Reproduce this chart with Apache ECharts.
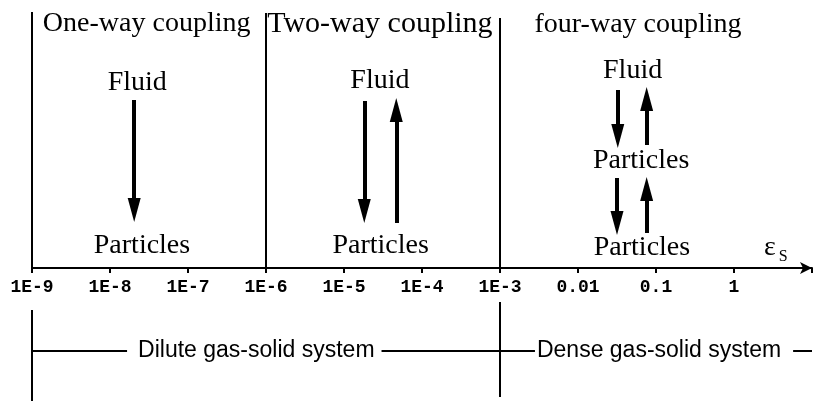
<!DOCTYPE html>
<html>
<head>
<meta charset="utf-8">
<script src="https://cdn.jsdelivr.net/npm/echarts@6/dist/echarts.min.js"></script>
<style>
  html, body { margin: 0; padding: 0; background: #fff; }
  #chart { width: 815px; height: 401px; }
</style>
</head>
<body>
<div id="chart"></div>
<script>
// data
var axisRange = [1e-9, 10];
var tickLabels = ["1E-9", "1E-8", "1E-7", "1E-6", "1E-5", "1E-4", "1E-3", "0.01", "0.1", "1"];
var regimeNames = ["One-way coupling", "Two-way coupling", "four-way coupling"];
var regimeEdges = [1e-9, 1e-6, 1e-3];
var phaseNames = ["Fluid", "Fluid", "Fluid"];
var particleNames = ["Particles", "Particles", "Particles", "Particles"];
var systemNames = ["Dilute gas-solid system", "Dense gas-solid system"];
var systemEdges = [1e-9, 1e-3];

// layout (x on the log axis, y in px above the axis / above the bottom edge)
var regimeLineTop = [256, 255, 250];
var titleAt = [[Math.pow(10, -7.53), 244], [Math.pow(10, -4.54), 244], [Math.pow(10, -1.23), 243]];
var titleSize = [28, 30, 28];
var fluidAt = [[Math.pow(10, -7.65), 185], [Math.pow(10, -4.54), 187], [Math.pow(10, -1.30), 197]];
var particleAt = [[Math.pow(10, -7.59), 22], [Math.pow(10, -4.53), 22], [Math.pow(10, -1.19), 107], [Math.pow(10, -1.18), 20]];
// [x, from, to]
var arrows = [
  [Math.pow(10, -7.69), 168, 46],
  [Math.pow(10, -4.74), 167, 45],
  [Math.pow(10, -4.33), 45, 170],
  [Math.pow(10, -1.49), 178, 120],
  [Math.pow(10, -1.12), 123, 181],
  [Math.pow(10, -1.50), 90, 33],
  [Math.pow(10, -1.12), 35, 91]
];
var headLen = 24;
var systemLineY = 50;
var systemTop = [91, 99];
var systemBottom = [0, 4];
var systemLabelAt = [Math.pow(10, -6.15), Math.pow(10, -0.897)];
var systemPad = [[0, 7, 0, 11], [0, 12, 0, 2]];

var myChart = echarts.init(document.getElementById("chart"));

function textSeries(points, names, label, gi) {
  return {
    type: "scatter",
    xAxisIndex: gi, yAxisIndex: gi,
    symbolSize: 0,
    itemStyle: { color: "#000", opacity: 1 },
    silent: true,
    z: 5,
    label: Object.assign({ show: true, position: "inside", color: "#000", opacity: 1,
      textBorderWidth: 0,
      formatter: function (p) { return p.name; } }, label),
    data: names.map(function (n, i) { return { name: n, value: points[i] }; })
  };
}

var serif = { fontFamily: "Liberation Serif", fontSize: 28 };

var shafts = arrows.map(function (a) {
  var dir = a[2] < a[1] ? 1 : -1;
  return { coords: [[a[0], a[1]], [a[0], a[2] + dir * headLen / 2]] };
});
var heads = arrows.map(function (a) {
  var dir = a[2] < a[1] ? 1 : -1;
  return { value: [a[0], a[2] + dir * headLen / 2], symbolRotate: dir > 0 ? 180 : 0 };
});

var titles = textSeries(titleAt, regimeNames, serif, 0);
titles.data.forEach(function (d, i) { d.label = { fontSize: titleSize[i] }; });

var option = {
  animation: false,
  backgroundColor: "#fff",
  grid: [
    { left: 32, right: 3, top: 0, bottom: 133, outerBoundsMode: "none" },
    { left: 32, right: 3, top: 300, bottom: 0, outerBoundsMode: "none" }
  ],
  xAxis: [
    {
      type: "log", logBase: 10, gridIndex: 0,
      min: axisRange[0], max: axisRange[1], interval: 1,
      axisLine: { show: true, lineStyle: { color: "#000", width: 2 },
        symbol: ["none", "arrow"], symbolSize: [9, 12] },
      axisTick: { show: true, length: 5, lineStyle: { color: "#000", width: 2 } },
      axisLabel: {
        color: "#000", fontFamily: "Liberation Mono", fontWeight: "bold", fontSize: 18, margin: 10,
        formatter: function (v) {
          var i = Math.round(Math.log10(v)) + 9;
          return tickLabels[i] || "";
        }
      },
      splitLine: { show: false }
    },
    { type: "log", logBase: 10, gridIndex: 1, min: axisRange[0], max: axisRange[1], show: false }
  ],
  yAxis: [
    { type: "value", gridIndex: 0, min: 0, max: 268, show: false },
    { type: "value", gridIndex: 1, min: 0, max: 101, show: false }
  ],
  series: [
    {
      type: "lines", coordinateSystem: "cartesian2d", xAxisIndex: 0, yAxisIndex: 0,
      silent: true, lineStyle: { color: "#000", width: 2, opacity: 1 },
      data: regimeEdges.map(function (x, i) { return { coords: [[x, 0], [x, regimeLineTop[i]]] }; })
    },
    {
      type: "lines", coordinateSystem: "cartesian2d", xAxisIndex: 0, yAxisIndex: 0,
      silent: true, lineStyle: { color: "#000", width: 4, opacity: 1 },
      data: shafts
    },
    {
      type: "scatter", xAxisIndex: 0, yAxisIndex: 0, silent: true,
      symbol: "triangle", symbolSize: [13, headLen],
      itemStyle: { color: "#000", opacity: 1 },
      data: heads
    },
    titles,
    textSeries(fluidAt, phaseNames, serif, 0),
    textSeries(particleAt, particleNames, serif, 0),
    textSeries([[Math.pow(10, 0.46), 20]], ["ε"], { fontFamily: "Liberation Serif", fontSize: 28 }, 0),
    textSeries([[Math.pow(10, 0.63), 11]], ["S"], { fontFamily: "Liberation Serif", fontSize: 16 }, 0),
    {
      type: "lines", coordinateSystem: "cartesian2d", xAxisIndex: 1, yAxisIndex: 1,
      silent: true, lineStyle: { color: "#000", width: 2, opacity: 1 },
      data: systemEdges.map(function (x, i) { return { coords: [[x, systemBottom[i]], [x, systemTop[i]]] }; })
        .concat([{ coords: [[axisRange[0], systemLineY], [axisRange[1], systemLineY]] }])
    },
    {
      type: "scatter", xAxisIndex: 1, yAxisIndex: 1,
      symbolSize: 0, itemStyle: { color: "#000", opacity: 1 }, silent: true, z: 5,
      data: systemNames.map(function (n, i) {
        return { name: n, value: [systemLabelAt[i], systemLineY],
          label: { padding: systemPad[i] } };
      }),
      label: {
        show: true, position: "inside", color: "#000", opacity: 1, textBorderWidth: 0,
        fontFamily: "Liberation Sans", fontSize: 23, backgroundColor: "#fff",
        formatter: function (p) { return p.name; }
      }
    }
  ]
};

myChart.setOption(option);
</script>
</body>
</html>
